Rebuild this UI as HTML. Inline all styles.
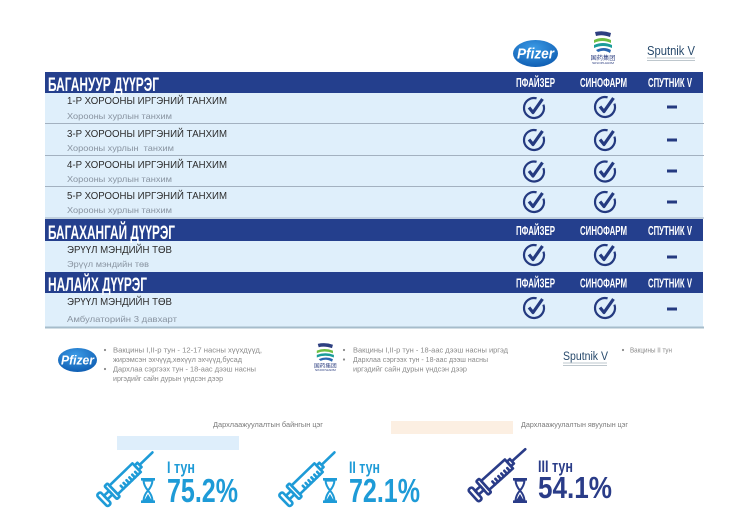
<!DOCTYPE html>
<html><head><meta charset="utf-8">
<style>
html,body{margin:0;padding:0;background:#fff;width:750px;height:530px;overflow:hidden}
svg{display:block}
text{font-family:"Liberation Sans","Noto Sans CJK SC",sans-serif}
</style></head>
<body>
<svg width="750" height="530" viewBox="0 0 750 530" xmlns="http://www.w3.org/2000/svg">
<defs>
<radialGradient id="pg" cx="0.45" cy="0.3" r="0.75">
<stop offset="0" stop-color="#3c9be6"/><stop offset="1" stop-color="#0d5bb0"/>
</radialGradient>
</defs>
<rect width="750" height="530" fill="#fff"/>

<!-- top logos -->
<ellipse cx="535.5" cy="53.5" rx="22.5" ry="13.5" fill="url(#pg)"/>
<text x="517" y="58.5" font-size="15" font-weight="bold" font-style="italic" fill="#fff" textLength="37" lengthAdjust="spacingAndGlyphs">Pfizer</text>

<g transform="translate(590,31)">
<path d="M5 1 Q13 -1 21 2 L20 6 Q12 3 6 5 Z" fill="#2d3f80"/>
<path d="M4 9 Q12 5 21 9 L21 12 Q12 8 4 12 Z" fill="#6fbf44"/>
<path d="M4 14 Q13 10 22 14 L22 17 Q13 13 4 17 Z" fill="#1b9c9a"/>
<path d="M6 19 Q14 15 21 19 L20 22 Q14 18 8 21 Z" fill="#2b66b0"/>
<text x="0.5" y="29" font-size="6" fill="#2d3f80" textLength="25" lengthAdjust="spacingAndGlyphs" font-family="Noto Sans CJK SC, sans-serif">国药集团</text>
<text x="2" y="33" font-size="2.6" fill="#2d3f80" textLength="22" lengthAdjust="spacingAndGlyphs">SINOPHARM</text>
</g>

<text x="647" y="55" font-size="12.5" fill="#284a6c" textLength="48" lengthAdjust="spacingAndGlyphs">Sputnik V</text>
<line x1="647" y1="58" x2="695" y2="58" stroke="#a8b4bc" stroke-width="0.8"/>
<line x1="647" y1="60.5" x2="695" y2="60.5" stroke="#a8b4bc" stroke-width="0.8"/>

<!-- row backgrounds -->
<rect x="45" y="93" width="658" height="126" fill="#dfeffb"/>
<rect x="45" y="241" width="658" height="31" fill="#dfeffb"/>
<rect x="45" y="293" width="658" height="34" fill="#dfeffb"/>
<g stroke="#a3b1c0" stroke-width="1">
<line x1="45" y1="123.5" x2="704" y2="123.5"/>
<line x1="45" y1="155.5" x2="704" y2="155.5"/>
<line x1="45" y1="186.5" x2="704" y2="186.5"/>
<line x1="45" y1="218" x2="704" y2="218"/>
</g>
<line x1="45" y1="327.5" x2="704" y2="327.5" stroke="#a6bccb" stroke-width="2"/>

<!-- header bars -->
<rect x="45" y="72" width="658" height="21" fill="#243f8d"/>
<rect x="45" y="219" width="658" height="22" fill="#243f8d"/>
<rect x="45" y="272" width="658" height="21" fill="#243f8d"/>

<g fill="#fff" font-weight="bold">
<text x="48" y="91" font-size="19" textLength="111" lengthAdjust="spacingAndGlyphs">БАГАНУУР ДҮҮРЭГ</text>
<text x="48" y="239" font-size="19" textLength="127" lengthAdjust="spacingAndGlyphs">БАГАХАНГАЙ ДҮҮРЭГ</text>
<text x="48" y="291" font-size="19" textLength="99" lengthAdjust="spacingAndGlyphs">НАЛАЙХ ДҮҮРЭГ</text>

<text x="516" y="87" font-size="12.5" textLength="39" lengthAdjust="spacingAndGlyphs">ПФАЙЗЕР</text>
<text x="580" y="87" font-size="12.5" textLength="47" lengthAdjust="spacingAndGlyphs">СИНОФАРМ</text>
<text x="648" y="87" font-size="12.5" textLength="44" lengthAdjust="spacingAndGlyphs">СПУТНИК V</text>

<text x="516" y="235" font-size="12.5" textLength="39" lengthAdjust="spacingAndGlyphs">ПФАЙЗЕР</text>
<text x="580" y="235" font-size="12.5" textLength="47" lengthAdjust="spacingAndGlyphs">СИНОФАРМ</text>
<text x="648" y="235" font-size="12.5" textLength="44" lengthAdjust="spacingAndGlyphs">СПУТНИК V</text>

<text x="516" y="287.5" font-size="12.5" textLength="39" lengthAdjust="spacingAndGlyphs">ПФАЙЗЕР</text>
<text x="580" y="287.5" font-size="12.5" textLength="47" lengthAdjust="spacingAndGlyphs">СИНОФАРМ</text>
<text x="648" y="287.5" font-size="12.5" textLength="44" lengthAdjust="spacingAndGlyphs">СПУТНИК V</text>
</g>

<!-- row texts -->
<g fill="#2c2c2c" font-size="10">
<text x="67" y="104" textLength="160" lengthAdjust="spacingAndGlyphs">1-Р ХОРООНЫ ИРГЭНИЙ ТАНХИМ</text>
<text x="67" y="137" textLength="160" lengthAdjust="spacingAndGlyphs">3-Р ХОРООНЫ ИРГЭНИЙ ТАНХИМ</text>
<text x="67" y="168" textLength="160" lengthAdjust="spacingAndGlyphs">4-Р ХОРООНЫ ИРГЭНИЙ ТАНХИМ</text>
<text x="67" y="199" textLength="160" lengthAdjust="spacingAndGlyphs">5-Р ХОРООНЫ ИРГЭНИЙ ТАНХИМ</text>
<text x="67" y="253" textLength="105" lengthAdjust="spacingAndGlyphs">ЭРҮҮЛ МЭНДИЙН ТӨВ</text>
<text x="67" y="305" textLength="105" lengthAdjust="spacingAndGlyphs">ЭРҮҮЛ МЭНДИЙН ТӨВ</text>
</g>
<g fill="#8893a0" font-size="8.5">
<text x="67" y="119" textLength="105" lengthAdjust="spacingAndGlyphs">Хорооны хурлын танхим</text>
<text x="67" y="151" textLength="107" lengthAdjust="spacingAndGlyphs" xml:space="preserve">Хорооны хурлын  танхим</text>
<text x="67" y="182" textLength="105" lengthAdjust="spacingAndGlyphs">Хорооны хурлын танхим</text>
<text x="67" y="213" textLength="105" lengthAdjust="spacingAndGlyphs">Хорооны хурлын танхим</text>
<text x="67" y="267" textLength="82" lengthAdjust="spacingAndGlyphs">Эрүүл мэндийн төв</text>
<text x="67" y="322" textLength="110" lengthAdjust="spacingAndGlyphs">Амбулаторийн 3 давхарт</text>
</g>

<!-- checks -->
<g fill="none" stroke="#243a80">
<g transform="translate(534,108)"><path d="M2.6 -9.66 A10 10 0 1 0 9.4 -3.42" stroke-width="2.2"/><path d="M-5 -0.5 L-1 4.5 L8.5 -9" stroke-width="3.2" stroke-linejoin="round"/></g>
<g transform="translate(605,107)"><path d="M2.6 -9.66 A10 10 0 1 0 9.4 -3.42" stroke-width="2.2"/><path d="M-5 -0.5 L-1 4.5 L8.5 -9" stroke-width="3.2" stroke-linejoin="round"/></g>
<g transform="translate(534,140)"><path d="M2.6 -9.66 A10 10 0 1 0 9.4 -3.42" stroke-width="2.2"/><path d="M-5 -0.5 L-1 4.5 L8.5 -9" stroke-width="3.2" stroke-linejoin="round"/></g>
<g transform="translate(605,140)"><path d="M2.6 -9.66 A10 10 0 1 0 9.4 -3.42" stroke-width="2.2"/><path d="M-5 -0.5 L-1 4.5 L8.5 -9" stroke-width="3.2" stroke-linejoin="round"/></g>
<g transform="translate(534,171.5)"><path d="M2.6 -9.66 A10 10 0 1 0 9.4 -3.42" stroke-width="2.2"/><path d="M-5 -0.5 L-1 4.5 L8.5 -9" stroke-width="3.2" stroke-linejoin="round"/></g>
<g transform="translate(605,171.5)"><path d="M2.6 -9.66 A10 10 0 1 0 9.4 -3.42" stroke-width="2.2"/><path d="M-5 -0.5 L-1 4.5 L8.5 -9" stroke-width="3.2" stroke-linejoin="round"/></g>
<g transform="translate(534,202)"><path d="M2.6 -9.66 A10 10 0 1 0 9.4 -3.42" stroke-width="2.2"/><path d="M-5 -0.5 L-1 4.5 L8.5 -9" stroke-width="3.2" stroke-linejoin="round"/></g>
<g transform="translate(605,202)"><path d="M2.6 -9.66 A10 10 0 1 0 9.4 -3.42" stroke-width="2.2"/><path d="M-5 -0.5 L-1 4.5 L8.5 -9" stroke-width="3.2" stroke-linejoin="round"/></g>
<g transform="translate(534,255)"><path d="M2.6 -9.66 A10 10 0 1 0 9.4 -3.42" stroke-width="2.2"/><path d="M-5 -0.5 L-1 4.5 L8.5 -9" stroke-width="3.2" stroke-linejoin="round"/></g>
<g transform="translate(605,255)"><path d="M2.6 -9.66 A10 10 0 1 0 9.4 -3.42" stroke-width="2.2"/><path d="M-5 -0.5 L-1 4.5 L8.5 -9" stroke-width="3.2" stroke-linejoin="round"/></g>
<g transform="translate(534,308)"><path d="M2.6 -9.66 A10 10 0 1 0 9.4 -3.42" stroke-width="2.2"/><path d="M-5 -0.5 L-1 4.5 L8.5 -9" stroke-width="3.2" stroke-linejoin="round"/></g>
<g transform="translate(605,308)"><path d="M2.6 -9.66 A10 10 0 1 0 9.4 -3.42" stroke-width="2.2"/><path d="M-5 -0.5 L-1 4.5 L8.5 -9" stroke-width="3.2" stroke-linejoin="round"/></g>
</g>
<g fill="#243a80">
<rect x="667" y="105.5" width="10" height="3"/>
<rect x="667" y="138.5" width="10" height="3"/>
<rect x="667" y="169.5" width="10" height="3"/>
<rect x="667" y="200.5" width="10" height="3"/>
<rect x="667" y="255.5" width="10" height="3"/>
<rect x="667" y="307.5" width="10" height="3"/>
</g>

<!-- legend -->
<ellipse cx="77.5" cy="360" rx="19.5" ry="12" fill="url(#pg)"/>
<text x="61" y="364.5" font-size="13" font-weight="bold" font-style="italic" fill="#fff" textLength="33" lengthAdjust="spacingAndGlyphs">Pfizer</text>
<g fill="#8a8a8a" font-size="7.3">
<circle cx="105" cy="350" r="1.1"/>
<circle cx="105" cy="369" r="1.1"/>
<text x="113" y="352.5" textLength="149" lengthAdjust="spacingAndGlyphs">Вакцины I,II-р тун - 12-17 насны хүүхдүүд,</text>
<text x="113" y="362" textLength="129" lengthAdjust="spacingAndGlyphs">жирэмсэн эхчүүд,хөхүүл эхчүүд,бусад</text>
<text x="113" y="371.5" textLength="143" lengthAdjust="spacingAndGlyphs">Дархлаа сэргээх тун - 18-аас дээш насны</text>
<text x="113" y="381" textLength="110" lengthAdjust="spacingAndGlyphs">иргэдийг сайн дурын үндсэн дээр</text>

<circle cx="344" cy="350" r="1.1"/>
<circle cx="344" cy="359.5" r="1.1"/>
<text x="353" y="352.5" textLength="155" lengthAdjust="spacingAndGlyphs">Вакцины I,II-р тун - 18-аас дээш насны иргэд</text>
<text x="353" y="362" textLength="135" lengthAdjust="spacingAndGlyphs">Дархлаа сэргээх тун - 18-аас дээш насны</text>
<text x="353" y="371.5" textLength="114" lengthAdjust="spacingAndGlyphs">иргэдийг сайн дурын үндсэн дээр</text>

<circle cx="623" cy="350" r="1.1"/>
<text x="630" y="352.5" textLength="42" lengthAdjust="spacingAndGlyphs">Вакцины II тун</text>
</g>

<g transform="translate(313,343) scale(0.95,0.85)">
<path d="M5 1 Q13 -1 21 2 L20 6 Q12 3 6 5 Z" fill="#2d3f80"/>
<path d="M4 9 Q12 5 21 9 L21 12 Q12 8 4 12 Z" fill="#6fbf44"/>
<path d="M4 14 Q13 10 22 14 L22 17 Q13 13 4 17 Z" fill="#1b9c9a"/>
<path d="M6 19 Q14 15 21 19 L20 22 Q14 18 8 21 Z" fill="#2b66b0"/>
<text x="1" y="29" font-size="6" fill="#2d3f80" textLength="24" lengthAdjust="spacingAndGlyphs" font-family="Noto Sans CJK SC, sans-serif">国药集团</text>
<text x="2" y="33" font-size="2.6" fill="#2d3f80" textLength="22" lengthAdjust="spacingAndGlyphs">SINOPHARM</text>
</g>

<text x="563" y="360" font-size="11.5" fill="#284a6c" textLength="45" lengthAdjust="spacingAndGlyphs">Sputnik V</text>
<line x1="563" y1="363" x2="607" y2="363" stroke="#a8b4bc" stroke-width="0.7"/>
<line x1="563" y1="365.5" x2="607" y2="365.5" stroke="#a8b4bc" stroke-width="0.7"/>

<!-- bottom -->
<text x="213" y="427" font-size="7.5" fill="#7a7a7a" textLength="110" lengthAdjust="spacingAndGlyphs">Дархлаажуулалтын байнгын цэг</text>
<rect x="117" y="436" width="122" height="14" fill="#deeefb"/>
<rect x="391" y="421" width="122" height="13" fill="#fcefe2"/>
<text x="521" y="427" font-size="7.5" fill="#7a7a7a" textLength="107" lengthAdjust="spacingAndGlyphs">Дархлаажуулалтын явуулын цэг</text>

<!-- syringe set 1 -->
<g transform="translate(128,476) rotate(-44)" fill="none" stroke="#1e9bd7" stroke-width="2.6" stroke-linejoin="round" stroke-linecap="round">
<rect x="-36" y="-8" width="5" height="16" rx="2"/>
<rect x="-31" y="-2.5" width="7" height="5"/>
<rect x="-24" y="-9" width="4" height="18" rx="1"/>
<rect x="-20" y="-6" width="32" height="12"/>
<path d="M-12 6 V2 M-8 6 V2 M-4 6 V2 M0 6 V2 M4 6 V2 M8 6 V2"/>
<rect x="12" y="-3" width="4" height="6"/>
<line x1="16" y1="0" x2="34" y2="0"/>
</g>
<g fill="#1e9bd7">
<rect x="141" y="478" width="14" height="2.6"/>
<rect x="141" y="500.4" width="14" height="2.6"/>
<path d="M143.5 480.6 L152.5 480.6 Q152 486 148 490.5 Q152 495 152.5 500.4 L143.5 500.4 Q144 495 148 490.5 Q144 486 143.5 480.6 Z" fill="none" stroke="#1e9bd7" stroke-width="2"/>
<path d="M148 494 L151.5 500 L144.5 500 Z"/>
<text x="167" y="473" font-size="16.5" font-weight="bold" textLength="28" lengthAdjust="spacingAndGlyphs">I тун</text>
<text x="167" y="502" font-size="33" font-weight="bold" textLength="71" lengthAdjust="spacingAndGlyphs">75.2%</text>
</g>

<!-- syringe set 2 -->
<g transform="translate(310,476) rotate(-44)" fill="none" stroke="#1e9bd7" stroke-width="2.6" stroke-linejoin="round" stroke-linecap="round">
<rect x="-36" y="-8" width="5" height="16" rx="2"/>
<rect x="-31" y="-2.5" width="7" height="5"/>
<rect x="-24" y="-9" width="4" height="18" rx="1"/>
<rect x="-20" y="-6" width="32" height="12"/>
<path d="M-12 6 V2 M-8 6 V2 M-4 6 V2 M0 6 V2 M4 6 V2 M8 6 V2"/>
<rect x="12" y="-3" width="4" height="6"/>
<line x1="16" y1="0" x2="34" y2="0"/>
</g>
<g fill="#1e9bd7" transform="translate(182,0)">
<rect x="141" y="478" width="14" height="2.6"/>
<rect x="141" y="500.4" width="14" height="2.6"/>
<path d="M143.5 480.6 L152.5 480.6 Q152 486 148 490.5 Q152 495 152.5 500.4 L143.5 500.4 Q144 495 148 490.5 Q144 486 143.5 480.6 Z" fill="none" stroke="#1e9bd7" stroke-width="2"/>
<path d="M148 494 L151.5 500 L144.5 500 Z"/>
</g>
<g fill="#1e9bd7" font-weight="bold">
<text x="349" y="473" font-size="16.5" textLength="31" lengthAdjust="spacingAndGlyphs">II тун</text>
<text x="349" y="502" font-size="33" textLength="71" lengthAdjust="spacingAndGlyphs">72.1%</text>
</g>

<!-- syringe set 3 -->
<g transform="translate(500,472) rotate(-42)" fill="none" stroke="#2a3c88" stroke-width="2.6" stroke-linejoin="round" stroke-linecap="round">
<rect x="-36" y="-8" width="5" height="16" rx="2"/>
<rect x="-31" y="-2.5" width="7" height="5"/>
<rect x="-24" y="-9" width="4" height="18" rx="1"/>
<rect x="-20" y="-6" width="32" height="12"/>
<path d="M-12 6 V2 M-8 6 V2 M-4 6 V2 M0 6 V2 M4 6 V2 M8 6 V2"/>
<rect x="12" y="-3" width="4" height="6"/>
<line x1="16" y1="0" x2="34" y2="0"/>
</g>
<g fill="#2a3c88" transform="translate(372,0)">
<rect x="141" y="478" width="14" height="2.6"/>
<rect x="141" y="500.4" width="14" height="2.6"/>
<path d="M143.5 480.6 L152.5 480.6 Q152 486 148 490.5 Q152 495 152.5 500.4 L143.5 500.4 Q144 495 148 490.5 Q144 486 143.5 480.6 Z" fill="none" stroke="#2a3c88" stroke-width="2"/>
<path d="M148 494 L151.5 500 L144.5 500 Z"/>
</g>
<g fill="#2a3c88" font-weight="bold">
<text x="538" y="472" font-size="16.5" textLength="35" lengthAdjust="spacingAndGlyphs">III тун</text>
<text x="538" y="498" font-size="31" textLength="74" lengthAdjust="spacingAndGlyphs">54.1%</text>
</g>
</svg>
</body></html>
